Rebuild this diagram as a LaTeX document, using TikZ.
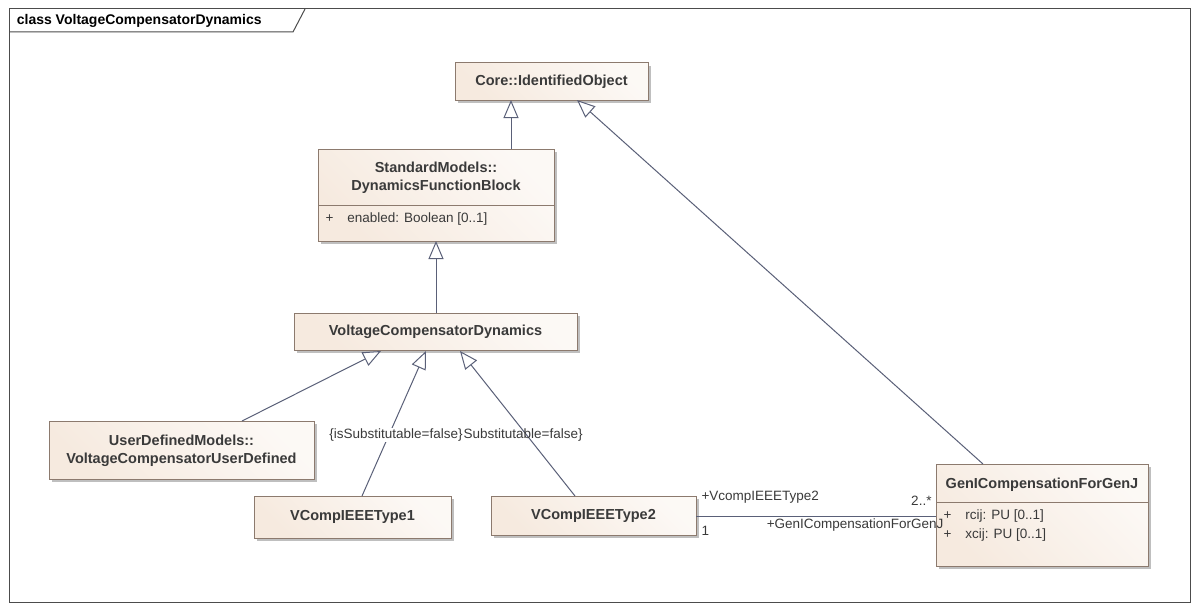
\documentclass[tikz,border=0pt]{standalone}
\usepackage{fontspec}
\setmainfont{Liberation Sans}
\usetikzlibrary{arrows.meta}
\definecolor{bx}{HTML}{F6EADF}
\definecolor{bd}{HTML}{8C7A6E}
\definecolor{tx}{HTML}{3A3A3A}
\definecolor{ln}{HTML}{5A6078}
\begin{document}
\begin{tikzpicture}[x=1pt,y=-1pt,line width=1pt,
  clsbox/.style={draw=bd,left color=bx,right color=white!70!bx,shading angle=135},
  clstext/.style={text=tx,font=\fontsize{14.5}{18}\selectfont\bfseries,align=center},
  shd/.style={fill=black!25,draw=none},
  gen/.style={draw=ln,-{Triangle[open,length=18pt,width=15pt,fill=white]}},
  lbl/.style={text=tx,font=\fontsize{13.5}{15}\selectfont,inner sep=1pt}]
\useasboundingbox (0,0) rectangle (1200,610);
\fill[white] (0,0) rectangle (1200,610);
\draw[black!70] (9,9) rectangle (1190,602);
\draw[black!70] (9,32) -- (293,32) -- (305,9);
\node[anchor=west,font=\fontsize{14}{16}\selectfont\bfseries,text=black] (title) at (13,21) {class VoltageCompensatorDynamics};
% shadows
\foreach \a/\b/\c/\d in {455/63/648/100,318/149/554/241,294/313/577/350,49/421/314/479,254/496/451/538,491/496/696/535,936/464/1148/566}
  \fill[shd] (\a+3,\b+3) rectangle (\c+3,\d+3);
% classes
\path[clsbox] (455,63) rectangle (648,100);
\node[clstext] (core) at (551.5,82) {Core::IdentifiedObject};
\coordinate (coreb) at (511,100); \coordinate (corer) at (577,100);
\path[clsbox] (318,149) rectangle (554,241);
\draw[bd] (318,205) -- (554,205);
\node[clstext] (std) at (436,178) {StandardModels::\\DynamicsFunctionBlock};
\node[lbl,anchor=west] (en) at (324,219) {+\hspace{14pt}enabled: Boolean [0..1]};
\coordinate (stdt) at (511,149); \coordinate (stdb) at (436,241);
\path[clsbox] (294,313) rectangle (577,350);
\node[clstext] (vcd) at (435.5,332) {VoltageCompensatorDynamics};
\coordinate (vcdt) at (436,313);
\path[clsbox] (49,421) rectangle (314,479);
\node[clstext] (ud) at (181.5,451) {UserDefinedModels::\\VoltageCompensatorUserDefined};
\path[clsbox] (254,496) rectangle (451,538);
\node[clstext] (t1) at (352.5,517) {VCompIEEEType1};
\path[clsbox] (491,496) rectangle (696,535);
\node[clstext] (t2) at (593.5,516) {VCompIEEEType2};
\path[clsbox] (936,464) rectangle (1148,566);
\draw[bd] (936,502) -- (1148,502);
\node[clstext] (g) at (1042,485) {GenICompensationForGenJ};
\node[lbl,anchor=west] (r) at (942,516) {+\hspace{14pt}rcij: PU [0..1]};
\node[lbl,anchor=west] (x) at (942,535) {+\hspace{14pt}xcij: PU [0..1]};
% generalizations
\draw[gen] (stdt) -- (coreb);
\draw[gen] (983,464) -- (corer);
\draw[gen] (vcdt) -- (stdb);
\draw[gen] (242,421) -- (381,351);
\draw[gen] (362,496) -- (426,351);
\draw[gen] (575,496) -- (460,351);
\node[lbl] (s2) at (516,435) {\{isSubstitutable=false\}};
\node[lbl,fill=white] (s1) at (396,435) {\{isSubstitutable=false\}};
% association
\draw[ln] (696,516) -- (936,516);
\node[lbl,anchor=west] (a1) at (700,497) {+VcompIEEEType2};
\node[lbl,anchor=west] (a2) at (700,531) {1};
\node[lbl,anchor=east] (a3) at (933,501) {2..*};
\node[lbl,anchor=east] (a4) at (945,525) {+GenICompensationForGenJ};
\end{tikzpicture}
\end{document}
